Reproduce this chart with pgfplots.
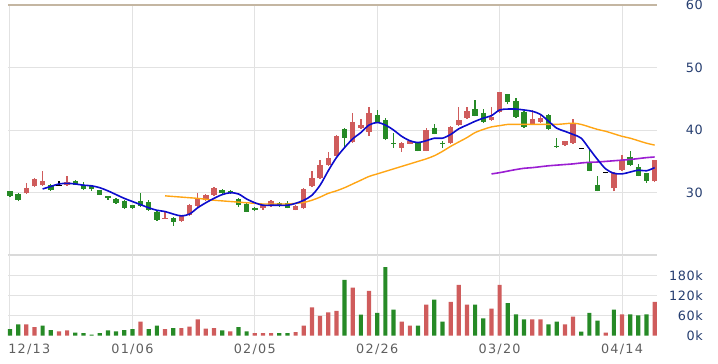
\documentclass[border=0pt]{standalone}
\usepackage{fontspec}
\setmainfont{DejaVu Sans}
\newfontfamily\xlabfont[LetterSpace=10]{DejaVu Sans}
\newfontfamily\ylabfont[LetterSpace=5]{DejaVu Sans}
\usepackage{pgfplots}
\usepackage{pgfplotstable}
\pgfplotsset{compat=1.18}

\definecolor{upc}{RGB}{207,92,92}
\definecolor{dnc}{RGB}{38,138,38}
\definecolor{maA}{RGB}{12,12,205}
\definecolor{maB}{RGB}{255,165,20}
\definecolor{maC}{RGB}{155,30,210}
\definecolor{gridc}{RGB}{226,226,226}
\definecolor{sepc}{RGB}{218,218,218}
\definecolor{topc}{RGB}{196,182,162}
\definecolor{ylab}{RGB}{38,62,112}
\definecolor{xlab}{RGB}{95,95,95}

% candles: x open high low close
\pgfplotstableread{
x o h l c
2 29.9 31.6 29.8 30.7
3 31.0 32.4 30.9 32.2
4 31.2 33.5 31.1 31.8
7 31.2 32.7 31.1 31.7
19 25.9 27.1 25.85 26.0
21 25.5 26.5 25.4 26.3
22 26.4 28.2 26.3 28.0
23 27.9 30.0 27.8 28.95
24 28.8 29.8 28.7 29.6
25 29.6 30.9 29.5 30.8
31 27.5 28.1 27.3 28.0
32 27.9 28.8 27.8 28.7
35 27.3 28.0 27.2 27.9
36 27.5 30.7 27.4 30.6
37 31.0 33.5 30.9 32.3
38 32.3 35.2 32.2 34.4
39 34.4 36.5 34.3 35.6
40 35.9 39.2 35.8 39.1
42 38.1 42.7 38.0 41.3
43 40.3 41.8 40.2 40.8
44 39.7 43.7 39.1 42.8
48 37.2 38.1 36.5 38.0
49 37.8 38.3 37.7 38.2
51 36.7 40.4 36.6 40.0
54 37.9 40.6 37.8 40.5
55 40.8 43.7 40.7 41.6
56 41.9 43.7 41.8 43.0
59 41.6 43.7 41.5 42.1
60 42.9 46.1 42.8 46.0
64 40.9 43.2 40.8 41.75
65 41.3 42.4 41.2 42.0
68 37.6 38.3 37.5 38.2
69 37.9 41.7 37.8 40.9
74 30.7 33.3 30.2 33.1
75 33.6 36.0 33.5 35.2
79 31.8 35.3 31.7 35.2
}\upTab

\pgfplotstableread{
x o h l c
0 30.2 30.3 29.3 29.5
1 29.8 30.0 28.6 28.8
5 31.2 31.4 30.3 30.5
8 31.9 32.0 31.2 31.3
9 31.2 31.7 30.4 30.6
10 31.0 31.1 30.3 30.6
11 30.4 30.5 29.6 29.7
12 29.4 29.5 28.9 29.1
13 29.0 29.1 28.2 28.3
14 28.6 28.8 27.4 27.6
15 28.0 28.1 27.4 27.5
16 28.7 29.9 27.8 27.9
17 28.5 28.8 27.1 27.3
18 27.0 27.1 25.5 25.65
20 25.9 26.2 24.7 25.4
26 30.4 30.6 29.8 29.9
27 30.3 30.4 29.8 29.95
28 28.95 29.2 27.7 28.05
29 28.2 28.3 26.9 27.0
30 27.6 27.7 27.1 27.3
33 28.4 28.5 27.8 27.9
34 28.3 28.6 27.5 27.6
41 40.15 40.3 37.2 38.7
45 42.4 43.2 41.2 41.3
46 41.6 42.0 38.4 38.5
47 37.9 39.6 37.2 37.7
50 38.0 38.1 36.6 36.7
52 40.4 40.9 39.3 39.4
53 38.0 38.3 37.2 37.85
57 43.3 44.8 42.2 42.3
58 42.8 43.3 41.2 41.3
61 45.7 45.8 44.1 44.5
62 44.6 45.1 42.0 42.1
63 42.9 43.0 40.3 40.45
66 42.4 42.5 40.0 40.1
67 37.5 38.8 37.1 37.3
71 34.7 37.0 33.4 33.5
72 31.3 32.7 30.2 30.2
76 35.75 36.7 34.3 34.4
77 34.1 34.6 32.6 32.7
78 33.1 33.2 31.6 31.9
}\dnTab

\pgfplotstableread{
x o h l c
6 31.2 31.9 31.1 31.2
70 37.1 37.2 37.0 37.1
73 33.2 33.3 33.1 33.2
}\djTab

% moving averages
\pgfplotstableread{
x y
4 30.6
5 31.0
6 31.4
7 31.5
8 31.4
9 31.2
10 31.1
11 30.8
12 30.3
13 29.7
14 29.1
15 28.6
16 28.1
17 27.6
18 27.2
19 27.0
20 26.6
21 26.3
22 26.6
23 27.6
24 28.4
25 29.1
26 29.7
27 30.0
28 29.8
29 29.0
30 28.4
31 28.0
32 28.0
33 28.0
34 28.0
35 28.3
36 28.8
37 29.6
38 31.2
39 33.5
40 35.6
41 37.2
42 38.6
43 39.6
44 40.8
45 41.2
46 40.8
47 40.0
48 39.0
49 38.3
50 38.0
51 38.3
52 38.7
53 38.7
54 39.3
55 40.2
56 40.8
57 41.4
58 41.9
59 42.3
60 43.2
61 43.35
62 43.35
63 43.2
64 43.0
65 42.5
66 41.4
67 40.3
68 39.8
69 39.3
70 38.7
71 37.0
72 35.3
73 33.8
74 33.1
75 33.0
76 33.3
77 33.6
78 33.5
79 34.0
}\maATab

\pgfplotstableread{
x y
19 29.5
20 29.4
21 29.3
22 29.2
23 29.1
24 28.95
25 28.8
26 28.7
27 28.6
28 28.5
29 28.4
30 28.3
31 28.2
32 28.2
33 28.2
34 28.2
35 28.3
36 28.45
37 28.8
38 29.3
39 29.9
40 30.3
41 30.8
42 31.4
43 32.0
44 32.6
45 33.0
46 33.4
47 33.8
48 34.2
49 34.6
50 35.0
51 35.4
52 35.9
53 36.6
54 37.4
55 38.1
56 38.8
57 39.6
58 40.1
59 40.5
60 40.7
61 40.9
62 40.9
63 40.9
64 40.9
65 40.9
66 40.9
67 40.9
68 41.0
69 41.1
70 40.9
71 40.5
72 40.1
73 39.8
74 39.4
75 39.0
76 38.7
77 38.3
78 37.9
79 37.6
}\maBTab

\pgfplotstableread{
x y
59 33.0
60 33.2
61 33.45
62 33.7
63 33.9
64 34.0
65 34.15
66 34.3
67 34.4
68 34.5
69 34.6
70 34.75
71 34.85
72 34.9
73 35.0
74 35.1
75 35.2
76 35.3
77 35.45
78 35.6
79 35.7
}\maCTab

% volume (thousands)
\pgfplotstableread{
x v
2 34
3 26
6 13
7 16
16 42
19 20
21 23
22 27
23 49
24 21
25 23
27 13
30 8
31 8
32 8
35 11
36 30
37 85
38 59
39 70
40 74
42 144
44 134
48 42
49 30
51 93
54 101
55 152
56 93
59 81
60 152
64 49
65 49
68 34
69 57
73 9
75 64
79 101
}\volUp

\pgfplotstableread{
x v
0 19.6
1 34
4 30
5 17
8 9
9 8
10 3
11 8
12 16
13 13
14 17
15 20
17 20
18 30
20 23
26 16
28 26
29 13
33 8
34 8
41 167
43 63
45 68
46 205
47 78
50 30
52 108
53 42
57 93
58 52
61 97
62 64
63 49
66 34
67 42
70 12
71 68
72 45
74 78
76 64
77 61
78 64
}\volDn

\pgfplotsset{
  chartbase/.style={
    scale only axis,
    width=648.7pt,
    xmin=-0.245, xmax=79.25,
    axis line style={draw=none},
    major tick length=0pt,
    tick style={draw=none},
    grid=major,
    grid style={gridc, line width=1pt},
    xtick={0,15,30,45,60,75},
    yticklabel pos=right,
    yticklabel style={anchor=east, inner sep=0pt, xshift=46.3pt,
      font=\ylabfont\fontsize{12.8}{14}\selectfont, text=ylab},
    clip=false,
  },
}

\begin{document}
\begin{tikzpicture}
\path[use as bounding box] (0pt,0pt) rectangle (718pt,-364pt);

\begin{axis}[chartbase,
  at={(8pt,-4.7pt)}, anchor=north west,
  height=250.7pt,
  ymin=20, ymax=60,
  xticklabels={},
  ytick={30,40,50},
  yticklabels={30,40,50},
  extra y ticks={60},
  extra y tick labels={60},
  extra y tick style={grid style={topc, line width=1.7pt}},
]
\draw[sepc, line width=1.8pt] (rel axis cs:0,0) -- (rel axis cs:1,0);

% wicks
\addplot[upc, line width=1.3pt, no markers, quiver={u=0, v=\thisrow{h}-\thisrow{l}}] table[x=x, y=l] {\upTab};
\addplot[dnc, line width=1.3pt, no markers, quiver={u=0, v=\thisrow{h}-\thisrow{l}}] table[x=x, y=l] {\dnTab};
\addplot[black, line width=1.3pt, no markers, quiver={u=0, v=\thisrow{h}-\thisrow{l}}] table[x=x, y=l] {\djTab};
% bodies
\addplot[upc, line width=5.4pt, no markers, quiver={u=0, v=\thisrow{c}-\thisrow{o}}] table[x=x, y=o] {\upTab};
\addplot[dnc, line width=5.4pt, no markers, quiver={u=0, v=\thisrow{c}-\thisrow{o}}] table[x=x, y=o] {\dnTab};
\addplot[black, only marks, mark=-, mark size=2.7pt, mark options={line width=1.4pt}] table[x=x, y=c] {\djTab};

% moving averages
\addplot[maB, line width=1.4pt, smooth, no markers] table[x=x, y=y] {\maBTab};
\addplot[maC, line width=1.6pt, smooth, no markers] table[x=x, y=y] {\maCTab};
\addplot[maA, line width=1.6pt, smooth, no markers] table[x=x, y=y] {\maATab};
\end{axis}

\begin{axis}[chartbase,
  at={(8pt,-255.4pt)}, anchor=north west,
  height=80.3pt,
  ymin=0, ymax=240,
  xticklabels={\makebox[0pt][l]{\hspace{-1.7pt}12/13},01/06,02/05,02/26,03/20,04/14},
  xticklabel style={anchor=north, inner sep=0pt, yshift=-7.6pt,
    font=\xlabfont\fontsize{12.8}{14}\selectfont, text=xlab},
  ytick={60,120,180},
  yticklabels={60k,120k,180k},
  extra y ticks={0},
  extra y tick labels={0k},
  extra y tick style={grid=none},
]
\addplot[ybar, bar width=4.2pt, bar shift=0pt, fill=upc, draw=none] table[x=x, y=v] {\volUp};
\addplot[ybar, bar width=4.2pt, bar shift=0pt, fill=dnc, draw=none] table[x=x, y=v] {\volDn};
\end{axis}
\end{tikzpicture}
\end{document}
